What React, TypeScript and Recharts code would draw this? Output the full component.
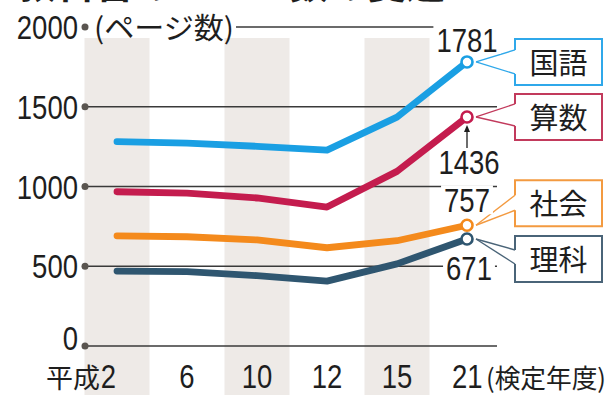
import React from 'react';
import { LineChart, Line, XAxis, YAxis, ReferenceLine, ReferenceDot } from 'recharts';

const title = '教科書のページ数の変遷';
const years = ['平成2', '6', '10', '12', '15', '21'];
const yearSuffix = '(検定年度)';
const unitLabel = '(ページ数)';
const yTicks = [0, 500, 1000, 1500, 2000];
const shadedYears = ['平成2', '10', '15'];
const seriesNames = ['国語', '算数', '社会', '理科'];
const kokugo = [1281, 1272, 1252, 1228, 1435, 1781];
const sansu = [967, 958, 928, 871, 1095, 1436];
const shakai = [691, 685, 665, 616, 660, 757];
const rika = [470, 466, 441, 407, 515, 671];

const data = years.map((y, i) => ({ year: y, kokugo: kokugo[i], sansu: sansu[i], shakai: shakai[i], rika: rika[i] }));

const NUM = "'Liberation Sans', Arial, sans-serif";
const JP = "'Noto Sans CJK JP', sans-serif";
const INK = '#1e1e1e';
const DIGIT_W = 15.3;

const series = [
  { key: 'kokugo', name: seriesNames[0], values: kokugo, color: '#1a9fe3', box: '#2fa8ea', boxDy: -23, tips: [11, 35], vdx: 0, vdy: -10, arrow: false },
  { key: 'sansu', name: seriesNames[1], values: sansu, color: '#c41c4e', box: '#c23a5c', boxDy: -23, tips: [10, 32], vdx: 2, vdy: 57, arrow: true },
  { key: 'shakai', name: seriesNames[2], values: shakai, color: '#f48a1c', box: '#f39a40', boxDy: -45, tips: [15, 30], vdx: 0, vdy: -13, arrow: false },
  { key: 'rika', name: seriesNames[3], values: rika, color: '#2f5670', box: '#4a6478', boxDy: -3, tips: [14, 28], vdx: 2, vdy: 41, arrow: false },
];

const Num = (props: any) => {
  const { x, y, anchor, children } = props;
  const s = String(children);
  return (
    <text
      x={x}
      y={y}
      textAnchor={anchor || 'middle'}
      fontFamily={NUM}
      fontSize={33}
      fill={INK}
      textLength={s.length * DIGIT_W}
      lengthAdjust="spacingAndGlyphs"
    >
      {s}
    </text>
  );
};

const YTick = (props: any) => {
  const { y, payload } = props;
  const v = payload.value;
  const dy = v === 0 ? 4 : 12;
  return (
    <g>
      <Num x={78} y={y + dy} anchor="end">{v}</Num>
      <circle cx={85} cy={y} r={3.5} fill="#5a5550" />
      {v === 2000 ? (
        <text x={94} y={y + 12} fontFamily={JP} fontSize={29} fill={INK} textLength={140} lengthAdjust="spacingAndGlyphs">{unitLabel}</text>
      ) : null}
    </g>
  );
};

const XTick = (props: any) => {
  const { x, payload } = props;
  const v = payload.value;
  const base = 388;
  if (v === years[0]) {
    return (
      <g>
        <text x={x - 17} y={base} textAnchor="end" fontFamily={JP} fontSize={27} fill={INK}>{v.slice(0, 2)}</text>
        <Num x={x - 1} y={base} anchor="end">{v.slice(2)}</Num>
      </g>
    );
  }
  if (v === years[years.length - 1]) {
    return (
      <g>
        <Num x={x - 15} y={base} anchor="start">{v}</Num>
        <text x={x + 19} y={base} fontFamily={JP} fontSize={26} fill={INK} textLength={120} lengthAdjust="spacingAndGlyphs">{yearSuffix}</text>
      </g>
    );
  }
  return <Num x={x} y={base}>{v}</Num>;
};

const Band = (props: any) => {
  const { x1 } = props;
  return <rect x={x1 - 32.5} y={38} width={65} height={357} fill="#eeeae7" />;
};

const gridLine = (startX: number) => (props: any) => {
  const { x1, x2, y1 } = props;
  return <line x1={startX || x1} x2={x2} y1={y1} y2={y1} stroke="#3a3a3a" strokeWidth={1.4} />;
};

const Callout = (props: any) => {
  const { cx, cy, s } = props;
  const bx = 515;
  const bw = 87;
  const bh = 46;
  const by = cy + s.boxDy;
  const t1 = by + s.tips[0];
  const t2 = by + s.tips[1];
  const ax = cx + 9;
  const value = s.values[s.values.length - 1];
  const label = String(value);
  const tw = label.length * DIGIT_W;
  const tx = cx + s.vdx;
  const ty = cy + s.vdy;
  return (
    <g>
      <rect x={bx} y={by} width={bw} height={bh} fill="#fff" />
      <path
        d={`M${bx},${t1} L${bx},${by} L${bx + bw},${by} L${bx + bw},${by + bh} L${bx},${by + bh} L${bx},${t2}`}
        fill="none"
        stroke={s.box}
        strokeWidth={2}
      />
      <line x1={ax} y1={cy} x2={bx} y2={t1} stroke={s.box} strokeWidth={1.4} />
      <line x1={ax} y1={cy} x2={bx} y2={t2} stroke={s.box} strokeWidth={1.4} />
      <text x={bx + bw / 2} y={by + 35} textAnchor="middle" fontFamily={JP} fontSize={29} fill={INK}>{s.name}</text>
      <rect x={tx - tw / 2 - 3} y={ty - 27} width={tw + 6} height={29} fill="#fff" />
      <Num x={tx} y={ty}>{label}</Num>
      {s.arrow ? (
        <g>
          <line x1={cx} y1={cy + 31} x2={cx} y2={cy + 10} stroke={INK} strokeWidth={1.3} />
          <path d={`M${cx - 3},${cy + 15} L${cx},${cy + 8} L${cx + 3},${cy + 15} Z`} fill={INK} />
        </g>
      ) : null}
      <circle cx={cx} cy={cy} r={5.5} fill="#fff" stroke={s.color} strokeWidth={2.6} />
    </g>
  );
};

export default function App() {
  return (
    <div style={{ position: 'absolute', left: 0, top: 0, width: 613, height: 395, background: '#fff' }}>
      <LineChart width={613} height={395} data={data} margin={{ top: 27, right: 116, left: 0, bottom: 0 }}>
        <XAxis
          dataKey="year"
          axisLine={false}
          tickLine={false}
          padding={{ left: 32, right: 30 }}
          height={49}
          interval={0}
          tick={<XTick />}
        />
        <YAxis
          width={85}
          domain={[0, 2000]}
          ticks={yTicks}
          interval={0}
          axisLine={false}
          tickLine={false}
          tick={<YTick />}
        />
        {shadedYears.map((y) => (
          <ReferenceLine key={'band' + y} x={y} shape={Band} />
        ))}
        {yTicks.map((t) => (
          <ReferenceLine key={'grid' + t} y={t} shape={gridLine(t === 2000 ? 236 : 0)} />
        ))}
        {series.map((s) => (
          <Line
            key={s.key}
            dataKey={s.key}
            type="linear"
            stroke={s.color}
            strokeWidth={6.8}
            strokeLinejoin="round"
            strokeLinecap="round"
            dot={false}
            activeDot={false}
            isAnimationActive={false}
          />
        ))}
        {series.map((s) => (
          <ReferenceDot
            key={'c' + s.key}
            x={years[years.length - 1]}
            y={s.values[s.values.length - 1]}
            shape={(p: any) => <Callout cx={p.cx} cy={p.cy} s={s} />}
          />
        ))}
      </LineChart>
      <svg width={613} height={20} style={{ position: 'absolute', left: 0, top: 0, pointerEvents: 'none' }}>
        <text x={17} y={-2} fontFamily={JP} fontWeight={700} fontSize={39} fill={INK}>{title}</text>
      </svg>
    </div>
  );
}
